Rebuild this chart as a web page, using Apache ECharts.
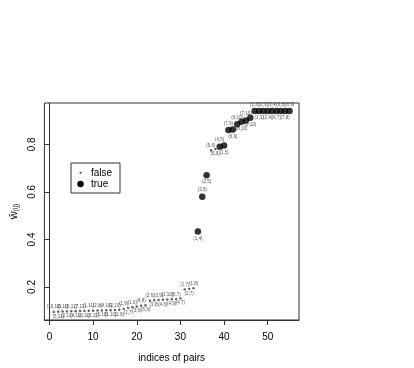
<!DOCTYPE html>
<html lang="en">
<head>
    <meta charset="utf-8">
    <title>indices of pairs</title>
    <script src="https://cdn.jsdelivr.net/npm/echarts@6/dist/echarts.min.js"></script>
    <style type="text/css">
        html, body { margin: 0; padding: 0; background: #fff; }
        #main { width: 414px; height: 368px; }
    </style>
</head>
<body>
<div id="main"></div>
<script>
    // pair index (x), estimated w-hat (y), pair label, whether the pair is "true"
    var pairIndex = [1, 2, 3, 4, 5, 6, 7, 8, 9, 10, 11, 12, 13, 14, 15, 16, 17, 18, 19, 20,
        21, 22, 23, 24, 25, 26, 27, 28, 29, 30, 31, 32, 33, 34, 35, 36, 37, 38, 39, 40,
        41, 42, 43, 44, 45, 46, 47, 48, 49, 50, 51, 52, 53, 54, 55];
    var wHat = [0.095, 0.096, 0.097, 0.097, 0.098, 0.098, 0.099, 0.099, 0.100, 0.100,
        0.101, 0.101, 0.102, 0.102, 0.103, 0.104, 0.108, 0.112, 0.115, 0.118,
        0.121, 0.123, 0.142, 0.144, 0.145, 0.146, 0.147, 0.148, 0.149, 0.152,
        0.190, 0.192, 0.195, 0.433, 0.580, 0.670, 0.775, 0.780, 0.790, 0.795,
        0.860, 0.862, 0.885, 0.895, 0.900, 0.912, 0.940, 0.940, 0.940, 0.940,
        0.940, 0.940, 0.940, 0.940, 0.940];
    var pairLabels = ['(10,11)', '(5,11)', '(8,11)', '(2,11)', '(6,11)', '(4,11)', '(7,11)', '(9,11)', '(1,11)', '(3,11)',
        '(2,8)', '(5,10)', '(4,10)', '(1,10)', '(2,10)', '(2,9)', '(1,9)', '(3,7)', '(1,6)', '(3,6)',
        '(4,8)', '(5,9)', '(2,6)', '(3,8)', '(3,9)', '(4,6)', '(3,10)', '(4,9)', '(5,7)', '(4,7)',
        '(1,7)', '(2,7)', '(1,8)', '(1,4)', '(3,5)', '(2,5)', '(5,6)', '(5,8)', '(4,5)', '(1,5)',
        '(7,9)', '(6,9)', '(6,10)', '(8,10)', '(7,10)', '(9,10)', '(1,2)', '(1,3)', '(2,3)', '(2,4)',
        '(3,4)', '(6,7)', '(6,8)', '(7,8)', '(8,9)'];
    var isTrue = [0, 0, 0, 0, 0, 0, 0, 0, 0, 0, 0, 0, 0, 0, 0, 0, 0, 0, 0, 0,
        0, 0, 0, 0, 0, 0, 0, 0, 0, 0, 0, 0, 0, 1, 1, 1, 0, 0, 1, 1,
        1, 1, 1, 1, 1, 1, 1, 1, 1, 1, 1, 1, 1, 1, 1];
    var xTicks = [0, 10, 20, 30, 40, 50];
    var yTicks = [0.2, 0.4, 0.6, 0.8];

    var font = 'Liberation Sans, Arial, sans-serif';
    var falseData = [], trueData = [];
    for (var i = 0; i < pairIndex.length; i++) {
        var item = {
            value: [pairIndex[i], wHat[i]],
            label: { position: (i % 2 === 0) ? 'top' : 'bottom' },
            name: pairLabels[i]
        };
        if (isTrue[i]) trueData.push(item); else falseData.push(item);
    }

    var pointLabel = {
        show: true,
        formatter: '{b}',
        fontSize: 4.5,
        fontFamily: font,
        color: '#222',
        distance: 1
    };

    var chart = echarts.init(document.getElementById('main'));
    var option = {
        backgroundColor: '#fff',
        animation: false,
        grid: {
            left: 44, right: 115, top: 103, bottom: 44,
            show: true, borderColor: '#333', borderWidth: 1
        },
        xAxis: {
            type: 'value',
            min: -1.16, max: 57.16,
            name: 'indices of pairs',
            nameLocation: 'middle',
            nameGap: 33,
            nameTextStyle: { fontSize: 10, fontFamily: font, color: '#000' },
            axisLine: { show: true, lineStyle: { color: '#333' } },
            axisTick: { show: true, length: 5, customValues: xTicks, lineStyle: { color: '#333' } },
            axisLabel: { customValues: xTicks, fontSize: 10, fontFamily: font, color: '#000', margin: 12 },
            splitLine: { show: false }
        },
        yAxis: {
            type: 'value',
            min: 0.061, max: 0.974,
            name: '{w|ŵ}{s|(ij)}',
            nameLocation: 'middle',
            nameGap: 24,
            nameTextStyle: {
                fontFamily: font, color: '#000', padding: [0, 0, 0, 0],
                rich: {
                    w: { fontSize: 11, fontFamily: font, color: '#000' },
                    s: { fontSize: 7, fontFamily: font, color: '#000', padding: [5, 0, 0, 0] }
                }
            },
            axisLine: { show: true, lineStyle: { color: '#333' } },
            axisTick: { show: true, length: 5, customValues: yTicks, lineStyle: { color: '#333' } },
            axisLabel: {
                customValues: yTicks, rotate: 90, fontSize: 10, fontFamily: font, color: '#000', margin: 7,
                formatter: function (v) { return v.toFixed(1); }
            },
            splitLine: { show: false }
        },
        series: [{
            name: 'false',
            type: 'scatter',
            symbol: 'circle',
            symbolSize: 2.4,
            itemStyle: { color: '#333' },
            label: pointLabel,
            data: falseData
        }, {
            name: 'true',
            type: 'scatter',
            symbol: 'circle',
            symbolSize: 6.5,
            itemStyle: { color: '#000' },
            label: pointLabel,
            data: trueData
        }],
        graphic: [
            { type: 'rect', left: 70.5, top: 162.5, shape: { width: 49, height: 30 },
              style: { fill: '#fff', stroke: '#333', lineWidth: 1 } },
            { type: 'circle', x: 80.5, y: 172.8, shape: { r: 1 }, style: { fill: '#333' } },
            { type: 'circle', x: 80.5, y: 184, shape: { r: 3.2 }, style: { fill: '#000' } },
            { type: 'text', x: 91, y: 172.8, style: { text: 'false', fontSize: 10, fontFamily: font, fill: '#000', verticalAlign: 'middle' } },
            { type: 'text', x: 91, y: 184, style: { text: 'true', fontSize: 10, fontFamily: font, fill: '#000', verticalAlign: 'middle' } }
        ]
    };
    chart.setOption(option);
</script>
</body>
</html>
